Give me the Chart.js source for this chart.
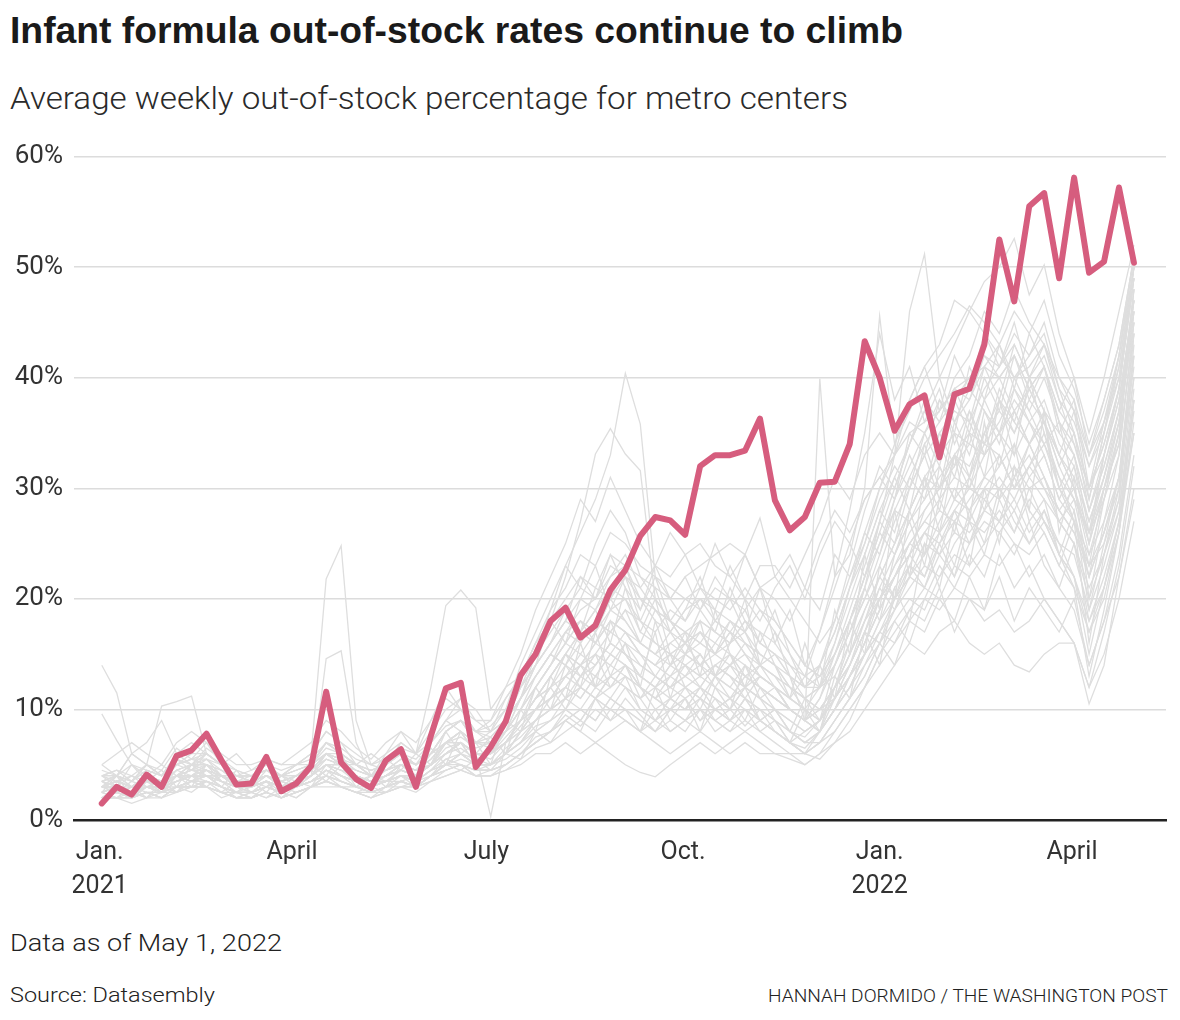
<!DOCTYPE html>
<html>
<head>
<meta charset="utf-8">
<script src="https://cdn.jsdelivr.net/npm/chart.js@4.4.1/dist/chart.umd.min.js"></script>
<style>
  body { margin: 0; background: #fff; width: 1180px; height: 1020px; position: relative; overflow: hidden; }
  .txt { position: absolute; left: 10px; white-space: nowrap; transform-origin: 0 0; color: #222; }
  #title { top: 10px; font: bold 37px "Liberation Sans Narrow", "Liberation Sans", sans-serif; color: #1a1a1a; }
  #subtitle { top: 80px; font: 300 31px Roboto, sans-serif; color: #2a2a2a; }
  #asof { top: 930px; font: 300 23px Roboto, sans-serif; }
  #source { top: 983px; font: 300 21px Roboto, sans-serif; }
  #credit { top: 985px; left: auto; font: 300 18px Roboto, sans-serif; }
  #wrap { position: absolute; left: 0; top: 130px; width: 1180px; height: 790px; }
</style>
</head>
<body>
<div id="title" class="txt">Infant formula out-of-stock rates continue to climb</div>
<div id="subtitle" class="txt">Average weekly out-of-stock percentage for metro centers</div>
<div id="wrap"><canvas id="chart" width="1180" height="790"></canvas></div>
<div id="asof" class="txt">Data as of May 1, 2022</div>
<div id="source" class="txt">Source: Datasembly</div>
<div id="credit" class="txt">HANNAH DORMIDO / THE WASHINGTON POST</div>
<script>
// weekly points, Jan. 2021 through end of April 2022 (x = days since Jan 1, 2021)
const weekCount = 70;
const weekDays = Array.from({ length: weekCount }, (_, i) => 1 + 7 * i);

const tickDays = [0, 90, 181, 273, 365, 455];
const tickLabels = [['Jan.', '2021'], 'April', 'July', 'Oct.', ['Jan.', '2022'], 'April'];
const yTicks = [0, 10, 20, 30, 40, 50, 60];

// highlighted metro
const highlight = [
  1.5, 3.0, 2.3, 4.1, 3.0, 5.8, 6.3, 7.8, 5.4, 3.2,
  3.3, 5.7, 2.6, 3.3, 4.9, 11.6, 5.2, 3.7, 2.9, 5.4,
  6.4, 3.0, 7.6, 11.9, 12.4, 4.8, 6.6, 8.9, 13.1, 15.0,
  18.0, 19.2, 16.5, 17.6, 20.8, 22.6, 25.7, 27.4, 27.1, 25.8,
  32.0, 33.0, 33.0, 33.4, 36.3, 28.9, 26.2, 27.4, 30.5, 30.6,
  34.0, 43.3, 40.0, 35.2, 37.6, 38.4, 32.8, 38.5, 39.0, 43.0,
  52.5, 46.9, 55.5, 56.7, 49.0, 58.1, 49.5, 50.5, 57.2, 50.4
];

// other metro centers
const metro01 = [14,11.5,6,7,9,6,5,5,4,4, 3.5,4,3,3.5,4,5,4,3.5,3,4, 5,4,7,9,8,6,6,8,10,12, 14,17,18,16,19,20,17,16,15,16, 14,15,17,15,13,12,10,9,11,14, 17,20,24,28,27,30,32,29,31,34, 33,30,32,35,30,28,22,26,30,44];
const metro02 = [9.6,7.2,5,4,5,4,3.5,4,4,3, 3,3.5,3,3,4,5,5,4,3.5,3.5, 4,4,5,6,7,6,6,7,9,11, 12,15,13,14,16,15,13,12,14,13, 15,13,12,14,12,11,10,9,10,12, 15,18,20,23,25,27,26,29,28,30, 32,34,31,33,29,27,24,27,31,40];
const metro03 = [3,3.5,3,4,3.5,4,5,4.5,4,3.5, 4,5,4,5,6,21.8,24.8,9,5,4.5, 5,4,6,7,6,5,7,9,12,14, 16,18,20,19,22,24,21,19,18,17, 16,15,17,16,15,14,12,10,9,11, 13,16,19,22,24,28,30,33,31,35, 38,36,34,37,33,30,25,30,34,48];
const metro04 = [2.5,3,2,3,2.5,3.5,4,4,3,2.5, 2.5,3,2.5,3,4,14.6,15.3,7,4,3.5, 3.5,4,5,7,7,5,5,6,8,10, 11,12,14,12,13,14,12,11,10,12, 11,13,12,11,10,9,8,7,8,10, 12,15,18,20,22,21,24,26,25,28, 27,29,26,28,25,22,18,21,27,38];
const metro05 = [4,4.5,4,5,4,6,7,6,5,4, 4,4.5,4,5,5,6,5,5,4,6, 8,6,12,19.4,20.8,19.2,10,12,13,16, 18,20,22,21,24,23,20,18,17,16, 18,17,16,18,16,15,14,12,12,14, 18,22,26,30,34,38,36,40,42,46, 44,48,45,43,40,38,33,37,42,51];
const metro06 = [3,3,2.5,3,3,4,4,5,4,3, 3,4,3,3.5,5,7,6,5,4,5, 6,5,7,9,11,10,8,10,14,17, 20,23,26,29,33,40.4,35.8,22,18,16, 17,15,16,17,14,13,12,11,10,12, 15,18,22,25,28,31,33,35,34,38, 40,42,38,41,36,34,30,33,38,47];
const metro07 = [2,2.5,2,3,2.5,3,3.5,4,3,2.5, 2.5,3,2.5,3,4,6,5,4,3,3.5, 4,4,5,7,8,6,6,8,11,14, 18,22,27,33.1,35.4,33.1,31.6,20,15,14, 15,13,14,15,13,12,10,9,8,10, 13,16,19,22,25,27,29,31,30,33, 35,37,34,36,32,29,26,29,33,45];
const metro08 = [3.5,4,3,4,3.5,5,5.5,6,5,4, 3.5,4,3.5,4,5,6,6,5,4,5, 6,5,6,8,9,7,7,9,11,13, 15,17,19,20,22,23,22,21,20,22, 23,24,25,24,27.3,22,24,21,25,28, 26,29,31,33,35,36,37,39,40,42, 41,44,42,45,40,37,32,36,41,50];
const metro09 = [3,3.5,3,3.5,3,4,4.5,4,4,3, 3,3.5,3,3.5,4,5,5,4,3.5,4, 5,4.5,5,6,7,6,6,7,9,11, 12,13,15,14,16,15,14,13,12,13, 12,14,13,12,11,12,10,9,39.9,22, 24,30,45.6,34,38,41,43,47,46,44, 42,40,41,43,39,35,30,34,39,49];
const metro10 = [2.5,3,2.5,3,3,3.5,4,4,3.5,3, 2.5,3,2.5,3,3.5,4.5,4,3.5,3,3.5, 4,3.5,4.5,5,6,5,5,6,7,9, 10,11,12,11,13,12,11,12,11,10, 11,10,9,11,9,8,7,6,8,12, 16,21,27,33,46,51.2,40,36,38,42, 40,37,39,41,35,33,28,32,37,46];
const metro11 = [2,2,1.5,2,2,2.5,3,3,2.5,2, 2,2.5,2,2.5,3,3.5,3,2.5,2,2.5, 3,3,3.5,4,4.5,4,4,4.5,5,6, 6,7,6,7,6,5,4.3,3.9,5,6, 7,6,7,8,7,6,6,5,6,7, 8,10,12,14,16,15,17,18,16,15, 16,14,13.4,15,16,16,12,15,20,27];
const metro12 = [2.5,2,2,2.5,2,3,3,3.5,3,2.5, 2,2.5,2,2.5,3,4,3.5,3,2.5,3, 3.5,3,4,5,5,4.5,4.5,5,6,7, 8,9,10,9,11,10,9,8,9,8, 10,9,8,9,8,7,6,6,7,8, 10,12,14,16,18,20,19,21,20,18, 19,17,18,20,18,16,10.5,14,22,30];
const metro13 = [3,3.5,3,4,3.5,4,5,5,4,3, 3.5,4,3,4,4.5,6,5,4,3.5,4, 5,4,5,7,7,6,0.3,7,9,10, 11,13,14,15,14,16,15,13,12,13, 14,12,11,13,12,11,10,9,8,10, 13,16,20,22,25,24,27,30,28,31, 33,30,32,34,30,27,23,26,31,41];
const metro14 = [3,3,2.5,3.5,3,4,4.5,5,4,3.5, 3,3.5,3,3.5,4,5,4.5,4,3.5,4, 4.5,4,5,6,7,6,6,7,9,12, 14,16,18,17,19,18,16,15,14,15, 16,15,14,16,15,14,13,12,13,16, 20,24,28,31,34,37,40,43,46,48.7, 50,52.6,47.5,50.2,44,40,35,40,46,52];
const metro15 = [4,4,3.5,4.5,4,5,6,6,5,4, 4,4.5,4,4.5,5,7,6,5,4.5,5, 6,5,6,8,9,8,7,9,12,14, 16,18,17,19,21,20,18,17,19,18, 20,19,18,17,19,17,15,13,12,14, 17,20,23,27,30,33,35,37,36,39, 41,43,40,42,38,36,32,35,40,50];
const metro16 = [3,3,2.5,3,3,4,4,4.5,4,3, 3,3.5,3,3,4,5,4.5,4,3.5,4, 4.5,4,5,6,7,6,6,7,8,10, 11,12,14,13,15,14,13,12,13,12, 13,14,13,12,13,12,11,10,10,12, 14,17,20,22,24,26,28,27,29,31, 30,32,30,31,28,26,23,25,29,43];
const metro17 = [2,2.5,2,2.5,2.5,3,3.5,3.5,3,2.5, 2.5,3,2.5,3,3.5,4,3.5,3,2.5,3, 3.5,3,4,5,6,5,5,6,8,9, 10,12,11,13,12,14,12,11,10,11, 9,10,11,10,9,10,8,7,7,9, 11,13,16,19,21,23,22,25,27,26, 28,26,29,27,25,24,19,23,28,39];
const metro18 = [5,6,7,6,5,7,8,7,6,5, 5,5.5,5,5,6,8,7,6,5,6, 7,6,8,10,11,9,9,11,13,16, 19,21,24,23,26,25,23,22,21,20, 19,21,20,19,21,18,16,14,13,15, 18,21,25,28,31,34,36,38,40,41, 43,40,42,44,39,37,33,36,40,49];
const metro19 = [3,4,6,5,10.3,10.7,11.2,6,5,4, 4,4.5,4,4,5,6,5,4.5,4,4.5, 5,4.5,5,6,7,6,6,7,8,9, 10,11,12,11,12,13,12,10,11,12, 11,10,11,12,11,10,9,8,9,11, 13,15,18,21,23,22,25,27,26,28, 30,28,31,29,27,25,21,24,29,40];
const metro20 = [2.5,3,2.5,3,3,3.5,4,4,3.5,3, 3,3.5,3,3.5,4,5,4,3.5,3,3.5, 4,3.5,4.5,5,6,5,5,6,7,8, 9,10,9,11,10,9,8,9,8,9, 10,9,8,10,9,8,7,6,7,9, 11,14,16,18,20,19,22,24,23,25, 27,25,24,26,23,21,17,20,26,36];
const metro21 = [3,3.5,3,3.5,3.5,4,5,5,4.5,3.5, 3.5,4,3.5,4,4.5,5.5,5,4.5,4,4.5, 5.5,5,6,7,8,7,7,8,10,12, 14,16,18,17,20,22,21,23,22,24, 25,23,22,24,21,22,20,18,16,18, 22,26,30,33,36,35,38,36,39,37, 35,38,36,34,31,29,26,30,35,46];
const metro22 = [3.5,3,3,4,3.5,4.5,5,5.5,4.5,3.5, 3.5,4,3.5,4,5,6,5.5,4.5,4,4.5, 5,4.5,5.5,7,8,7,7,8,9,11, 13,15,17,16,18,17,15,14,15,14, 13,14,15,13,12,11,10,9,10,11, 13,15,17,19,22,24,26,28,27,30, 29,31,33,30,27,25,20,24,30,42];
const metro23 = [2,2.5,2,3,2.5,3,3.5,3.5,3,2.5, 2.5,3,2.5,3,3.5,4.5,4,3.5,3,3.5, 4,3.5,4.5,6,7,5,5,6,8,10, 12,14,13,15,17,16,14,13,12,14, 13,12,14,13,12,11,10,9,8,10, 12,14,17,20,22,25,24,22,25,27, 26,28,25,27,24,22,17,21,26,38];
const metro24 = [3,3,2.5,3.5,3,4,4.5,4.5,4,3, 3,3.5,3,3.5,4,5,5,4,3.5,4, 4.5,4,5,7,8,6,6,8,11,15, 19,23,21,25,28,26,22,20,18,17, 16,18,17,15,14,13,12,11,10,12, 14,17,21,24,27,29,31,33,32,35, 37,35,38,36,33,31,27,31,36,47];
const metro25 = [4,3.5,3,4,3.5,5,5.5,5,4.5,4, 3.5,4,3.5,4,4.5,6,5.5,5,4,5, 6,5,6,8,9,7,8,9,11,13, 15,14,16,18,17,19,18,16,15,16, 17,16,18,17,15,14,12,11,12,13, 16,19,22,25,28,31,30,33,35,34, 36,39,37,40,36,33,28,32,37,48];
const metro26 = [2,2,2,2.5,2,3,3,3,2.5,2, 2,2.5,2,2.5,3,3.5,3,3,2.5,3, 3.5,3,4,4.5,5,4.5,4.5,5,6,7, 8,9,8,7,8,9,8,7,6,7, 8,7,6,7,6,6,5.5,5,6,8, 10,12,15,17,19,21,20,23,22,24, 23,25,22,24,21,19,14,18,24,33];
const metro27 = [3,3.5,3,4,3.5,4.5,5,5,4,3.5, 3,3.5,3,3.5,4,5.5,5,4,3.5,4, 5,4,5,6,7,6,6,7,9,11, 13,15,14,16,15,17,15,14,13,15, 14,13,15,14,13,12,11,10,9,11, 14,17,20,23,26,28,30,32,34,33, 35,33,36,38,34,32,27,31,36,46];
const metro28 = [3,3,2.5,3,3,3.5,4,4,3.5,3, 3,3.5,3,3.5,4,5,4.5,4,3.5,4, 4.5,4,5,6,7,6,6,7,9,11, 13,15,17,16,18,17,16,15,16,17, 18,17,16,18,17,16,14,13,14,17, 21,25,30,34,37,40,42,44,46.5,45, 43,46,44,47,42,39,34,38,43,51];
const metro29 = [2.5,3,2.5,3,2.5,3.5,4,4,3.5,3, 2.5,3,2.5,3,3.5,4.5,4,3.5,3,3.5, 4,3.5,4.5,5.5,6,5,5,6,7,9, 10,11,13,12,14,13,12,11,12,11, 12,11,10,12,11,10,9,8,9,11, 13,16,19,22,24,26,25,28,30,29, 31,29,32,30,28,26,22,26,31,44];
const metro30 = [3.5,4,3.5,4.5,4,5,5.5,5.5,5,4, 4,4.5,4,4.5,5,6.5,6,5,4.5,5, 6,5,6,8,9,8,8,9,12,15, 17,19,21,20,23,22,20,19,18,20, 21,20,19,21,19,18,16,14,13,15, 18,22,25,29,32,35,37,39,38,41, 40,42,39,41,37,35,30,34,39,50];
const metro31 = [4,3,5,3.5,4.5,3,5,4,3,4.5, 3,4.5,3.5,3,5,4,6,3.5,4,5.5, 4.5,6,5,8,6,7,5,9,8,12, 10,14,12,17,13,16,12,18,14,17, 13,19,15,12,17,14,11,16,12,19, 15,24,19,28,22,31,26,33,27,36, 29,34,28,37,26,31,20,27,33,45];
const metro32 = [2.5,4,2,3.5,2.5,4,3,5,3.5,2.5, 3.5,2.5,4,3,4.5,3.5,5,3,4,3, 5,4,6.5,5,8,6,7.5,6,10,8, 13,11,16,12,18,15,13,17,11,15, 18,13,16,20,14,17,13,9,14,11, 18,15,23,20,28,24,32,29,35,31, 38,33,40,35,31,27,22,29,35,48];
const metro33 = [3.5,2.5,3,2,3.5,2.5,4,3,2.5,3.5, 2.5,3.5,2,3,3.5,4.5,3.5,3,2.5,3, 4,3,4,5,4.5,5.5,4.5,6,5.5,8, 7,9,8,11,9,10,8,12,9,11, 8,12,10,14,11,9,7,10,8,13, 11,17,14,21,18,25,21,27,23,30, 25,32,27,29,24,28,19,25,31,42];
const metro34 = [3,4,3.5,5,4,5.5,4.5,6,5,4, 4.5,5,4,5,6,8,7,5,6,5, 7,6,9,11,10,8,9,12,15,19, 22,25,29,27,31,28,25,23,26,24, 21,25,22,20,23,23,21,24,27,31, 29,33,35,33,38,41,37,42,39,44, 41,45,40,43,38,34,29,35,42,50];
const metro35 = [2,3,2.5,2,3,2.5,3.5,3,2,2.5, 2,3,2.5,2,3,4,3,2.5,3,2.5, 3.5,3,4,5.5,5,4.5,5,6,7,8.5, 9,11,10,12,11,13,10,9,11,10, 12,11,9,10,8,9,7,6,5.5,7, 9,12,15,18,16,20,23,21,24,22, 26,24,27,23,21,25,18,22,27,35];
const metro36 = [5,4,6,5,4.5,6.5,5.5,7,5,6, 4.5,5.5,5,6,7,9,8,6.5,5.5,7, 8,7,9,12,10,9,8,11,13,16, 18,16,20,23,19,22,18,21,17,19, 22,18,20,17,21,16,19,14,17,21, 25,22,27,31,28,34,30,36,33,38, 35,40,37,34,36,30,25,33,39,49];
const metro37 = [3,2.5,3.5,3,2.5,4,3.5,3,4,3, 3.5,3,4,3.5,3,5,4.5,3.5,3,3.5, 4.5,4,5,6,6.5,5.5,6,7.5,9,10, 12,10,13,15,12,14,11,13,15,12, 10,13,11,9,12,10,8,11,9,14, 17,21,18,24,27,23,29,26,31,28, 33,30,34,31,27,29,23,30,34,44];
const metro38 = [3,3.5,3,3,3.5,4,4,4.5,3.5,3, 3,3.5,3,3.5,4,5,4.5,4,3.5,4, 4.5,4,5,6,7,6,6,7,9,11, 13,15,14,16,18,17,15,14,16,15, 14,16,15,13,14,12,11,13,17,22, 28,35,44,38,41,36,39,34,37,33, 35,31,34,36,30,33,26,31,37,47];
const metro39 = [2.5,2,3,2.5,2,3,2.5,3.5,3,2, 2.5,2,3,2.5,3,3.5,3,2.5,2,3, 3,3.5,4,4.5,5,4,4.5,5,6,7, 8,9.5,8.5,10,9,11,9.5,8,10,9, 11,9,10,8.5,10,8,7,8,9,12, 14,18,21,19,23,26,24,28,25,29, 27,31,28,26,23,27,16,24,28,38];
const metro40 = [4,4.5,3.5,5,4,6,5,6.5,5.5,4.5, 4,5,4.5,5,5.5,7,6.5,5.5,5,5.5, 6.5,6,7,9,10,8,8.5,10,12,14, 16,19,17,21,20,23,19,22,20,18, 21,19,23,20,18,21,23,20,24,27, 25,29,31,29,35,33,38,35,41,38, 43,39,44,41,37,40,33,38,43,51];
const metro41 = [2,2.5,2,2.5,2,3,3,3.5,2.5,2, 2,2.5,2,2.5,3,3.5,3,2.5,2,2.5, 3,2.5,3.5,4.5,5,4,4,5,6,7.5, 8,10,9,11,10,12,11,9,10,11, 9,11,10,12,9,10,8,7,8,10, 12,15,17,16,19,18,21,17,20,19, 22,18,21,19,17,20,14,18,22,29];
const metro42 = [3.5,3,4,3.5,3,4.5,4,5,4,3.5, 3.5,4,3.5,4,4.5,5.5,5,4,3.5,4, 5,4.5,6,7,8,7,6.5,8,10,13, 15,14,17,19,16,21,17,20,18,16, 19,17,21,18,16,19,15,12,14,17, 21,24,28,26,31,29,34,31,36,33, 38,35,39,36,32,35,28,33,38,47];
const metro43 = [2.5,3,2.5,3.5,3,3.5,4,3.5,3,2.5, 3,3.5,2.5,3,3.5,4.5,4,3.5,3,3.5, 4,3.5,4.5,5,6,5.5,5,6.5,7.5,9, 11,12,11,13,15,14,12,11,13,14, 12,14,13,11,13,12,10,9,11,15, 19,23,27,25,30,33,29,35,31,37, 34,39,36,33,29,32,25,30,36,45];
const metro44 = [3,3.5,4,3,3.5,5,4.5,5.5,4,3.5, 3,4,3.5,3,4,6,5.5,4,3.5,4.5, 5.5,5,6,8,9,7,7.5,9,11,14, 16,18,22,20,24,21,19,23,20,22, 19,22,20,24,21,20,18,21,19,24, 22,25,29,32,30,35,32,38,35,40, 37,42,39,36,33,37,29,35,41,50];
const metro45 = [2,2,2.5,2,2.5,2.5,3,3,2.5,2, 2.5,2,2.5,2,3,3,3,2.5,2.5,2.5, 3,3,3.5,4,4.5,4,4,4.5,5.5,6.5, 7,8,9,8,10,9,8,10,8,9, 10,8,9,11,9,8,7,6.5,8,11, 14,17,16,20,23,21,25,22,27,24, 29,26,30,27,24,22,15,21,27,37];
const metro46 = [4.5,4,5,4.5,4,5.5,5,6,5,4.5, 4,4.5,4,4.5,5,7,6,5,4.5,5, 6,5.5,7,8.5,9,8,7.5,9,11,13, 15,17,16,18,17,19,16,15,17,19, 20,18,17,19,16,15,13,11,12,15, 18,22,26,24,28,31,28,33,30,35, 32,37,34,31,28,30,24,29,35,46];
const metro47 = [3,2.5,3,3.5,3,4,3.5,4.5,3.5,3, 2.5,3,3.5,3,3.5,4.5,4,3,3,3.5, 4.5,4,5,6.5,7,6,5.5,7,8.5,10, 11,13,12,14,16,15,13,12,14,16, 15,13,14,12,14,13,11,10,12,16, 21,26,24,29,33,30,35,32,37,34, 39,36,40,37,33,30,26,33,39,49];
const metro48 = [2.5,3,2,3,3,3,3.5,4,3,2.5, 2.5,3,2.5,3,3.5,4,3.5,3,2.5,3, 3.5,3,4,5,5.5,5,5,5.5,6.5,8, 9,10,12,11,13,12,10,9,11,10, 12,10,9,11,10,9,8,7.5,9,12, 15,19,22,20,24,22,26,23,28,25, 30,27,25,28,24,21,13,19,26,35];
const metro49 = [3.5,4,3,4,3.5,4.5,5,4.5,4,3.5, 3.5,4,3.5,4,4.5,6,5,4.5,4,4.5, 5,4.5,5.5,7,7.5,6.5,7,8,10,12, 14,16,15,17,20,18,16,19,17,15, 17,15,18,16,14,15,13,12,14,18, 23,28,32,30,34,37,34,39,36,41, 38,43,40,37,35,38,30,36,42,51];
const metro50 = [2,2.5,2,2.5,2.5,3,3,3,2.5,2.5, 2,2.5,2,2.5,3,4,3.5,3,2.5,3, 3.5,3,4,4.5,5,4.5,4.5,5,6,7, 8,9,10,9,11,10,9,8,10,9, 8,10,9,8,9,8,7,6,7,9, 11,13,16,14,18,17,20,18,22,19, 24,21,23,20,18,16,12,17,23,32];

const otherMetros = [metro01, metro02, metro03, metro04, metro05, metro06, metro07, metro08, metro09, metro10,
  metro11, metro12, metro13, metro14, metro15, metro16, metro17, metro18, metro19, metro20,
  metro21, metro22, metro23, metro24, metro25, metro26, metro27, metro28, metro29, metro30,
  metro31, metro32, metro33, metro34, metro35, metro36, metro37, metro38, metro39, metro40,
  metro41, metro42, metro43, metro44, metro45, metro46, metro47, metro48, metro49, metro50];

const pink = '#d65d7e';
const grey = '#dedede';
const tickFont = { family: 'Roboto', size: 25, weight: '400', lineHeight: 1.36 };

function toPoints(values) {
  return values.map((v, i) => ({ x: weekDays[i], y: v }));
}

const datasets = otherMetros.map(values => ({
  data: toPoints(values),
  borderColor: grey,
  borderWidth: 1.3,
  pointRadius: 0,
  tension: 0,
  order: 1
}));
datasets.push({
  data: toPoints(highlight),
  borderColor: pink,
  borderWidth: 6,
  borderJoinStyle: 'round',
  borderCapStyle: 'round',
  pointRadius: 0,
  tension: 0,
  order: 0
});

new Chart(document.getElementById('chart').getContext('2d'), {
  type: 'line',
  data: { datasets },
  options: {
    responsive: false,
    animation: false,
    devicePixelRatio: 1,
    layout: { padding: { top: 7, right: 14, left: 0, bottom: 0 } },
    plugins: { legend: { display: false }, tooltip: { enabled: false } },
    scales: {
      x: {
        type: 'linear',
        min: -12,
        max: 499,
        afterFit: scale => { scale.height = 100; },
        afterBuildTicks: scale => { scale.ticks = tickDays.map(v => ({ value: v })); },
        ticks: {
          autoSkip: false,
          maxRotation: 0,
          padding: 8,
          color: '#333',
          font: tickFont,
          callback: (value) => tickLabels[tickDays.indexOf(value)]
        },
        grid: { display: false },
        border: { display: true, color: '#222', width: 2.5 }
      },
      y: {
        min: 0,
        max: 60,
        afterFit: scale => { scale.width = 74; },
        afterBuildTicks: scale => { scale.ticks = yTicks.map(v => ({ value: v })); },
        ticks: {
          padding: 11,
          color: '#333',
          font: { family: 'Roboto', size: 26, weight: '400' },
          callback: v => v + '%'
        },
        grid: { color: '#dcdcdc', lineWidth: 1.5, drawTicks: false },
        border: { display: false }
      }
    }
  }
});

// squeeze html text to the widths of the original lettering
function fitWidth(id, width) {
  const el = document.getElementById(id);
  const w = el.getBoundingClientRect().width;
  el.style.transform = 'scaleX(' + (width / w) + ')';
  return el;
}
fitWidth('title', 893);
fitWidth('subtitle', 838);
fitWidth('asof', 272);
fitWidth('source', 205);
const credit = fitWidth('credit', 400);
credit.style.left = '768px';
</script>
</body>
</html>
